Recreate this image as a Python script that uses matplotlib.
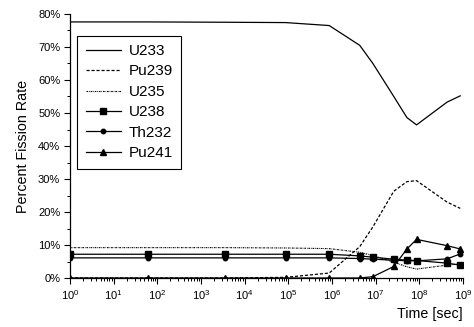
import matplotlib
matplotlib.use('Agg')
import matplotlib.pyplot as plt
from matplotlib.ticker import LogLocator, FuncFormatter, MultipleLocator, NullFormatter

plt.rcParams['font.family'] = ['Liberation Sans', 'DejaVu Sans']

# time points [sec]
t = [1, 60, 3600, 86400, 8.64e5, 4.32e6, 8.64e6, 2.6e7, 5.2e7, 8.64e7, 4.32e8, 8.64e8]

# percent fission rate per isotope
u233 = [77.6, 77.6, 77.5, 77.4, 76.5, 70.5, 65.0, 55.0, 48.6, 46.4, 53.3, 55.2]
pu239 = [0.0, 0.0, 0.0, 0.2, 1.5, 9.5, 15.5, 26.3, 29.2, 29.5, 23.0, 21.1]
u235 = [9.2, 9.2, 9.2, 9.1, 8.9, 7.8, 6.8, 4.8, 3.4, 2.7, 3.9, 4.3]
u238 = [7.2, 7.2, 7.2, 7.2, 7.2, 6.7, 6.3, 5.7, 5.4, 5.3, 4.5, 3.9]
th232 = [6.1, 6.1, 6.1, 6.1, 6.1, 5.9, 5.7, 5.4, 5.2, 5.2, 5.8, 7.3]
pu241 = [0.0, 0.0, 0.0, 0.0, 0.0, 0.0, 0.4, 3.5, 8.8, 11.7, 9.8, 8.8]

fig = plt.figure(figsize=(4.74, 3.27), dpi=100)
ax = fig.add_axes([70/474, 49/327, 393/474, 264/327])

ax.plot(t, u233, 'k-', lw=0.9, label='U233')
ax.plot(t, pu239, 'k', ls=(0, (2.5, 1.5)), lw=0.9, label='Pu239')
ax.plot(t, u235, 'k', ls=(0, (1.5, 0.8, 0.6, 0.8)), lw=0.8, label='U235')
ax.plot(t, u238, 'k-', lw=0.9, marker='s', ms=3.8, label='U238')
ax.plot(t, th232, 'k-', lw=0.9, marker='o', ms=3.2, label='Th232')
ax.plot(t, pu241, 'k-', lw=0.9, marker='^', ms=3.8, label='Pu241')

ax.set_xscale('log')
ax.set_xlim(1, 1e9)
ax.set_ylim(0, 80)
ax.xaxis.set_major_locator(LogLocator(base=10, numticks=20))
ax.xaxis.set_minor_locator(LogLocator(base=10, subs=range(2, 10), numticks=100))
ax.xaxis.set_minor_formatter(NullFormatter())
ax.yaxis.set_major_locator(MultipleLocator(10))
ax.yaxis.set_minor_locator(MultipleLocator(5))
ax.yaxis.set_major_formatter(FuncFormatter(lambda v, p: '%d%%' % v))

for s in ['top', 'right']:
    ax.spines[s].set_visible(False)
ax.spines['left'].set_linewidth(0.9)
ax.spines['bottom'].set_linewidth(0.9)
ax.tick_params(which='major', length=4, width=0.8, labelsize=8, pad=3)
ax.tick_params(which='minor', length=2.5, width=0.7)

ax.set_ylabel('Percent Fission Rate', fontsize=10.3, labelpad=6)
ax.set_xlabel('Time [sec]', fontsize=10.3)
ax.xaxis.set_label_coords(1.0, -0.11)
ax.xaxis.label.set_horizontalalignment('right')

leg = ax.legend(loc='upper left', bbox_to_anchor=(0.0186, 0.918), borderaxespad=0,
                fancybox=False, edgecolor='k', fontsize=11, numpoints=1,
                handlelength=2.3, handletextpad=0.5, labelspacing=0.42,
                borderpad=0.55, framealpha=1)
leg.get_frame().set_linewidth(0.8)

fig.savefig('out.png', dpi=100)
